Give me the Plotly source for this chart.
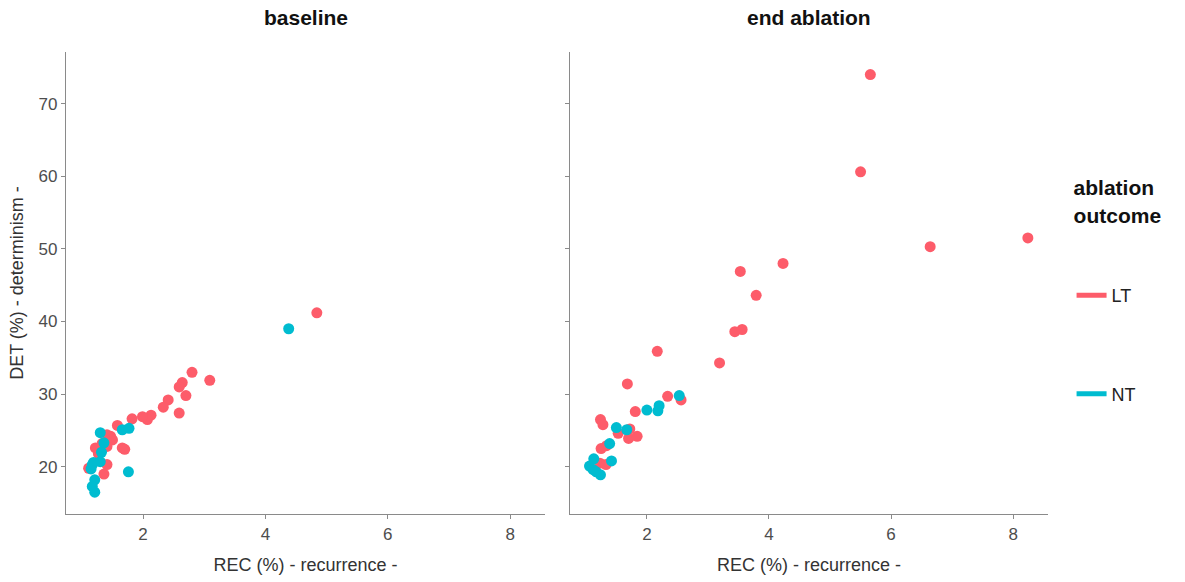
import plotly.graph_objects as go

# baseline panel
base_lt_x = [4.84, 2.80, 3.09, 2.64, 2.59, 2.70, 2.41, 2.33, 2.59, 2.13, 2.07, 1.99, 1.82, 1.58,
             1.47, 1.50, 1.41, 1.33, 1.41, 1.66, 1.70, 1.22, 1.27, 1.11, 1.41, 1.36]
base_lt_y = [41.2, 33.0, 31.9, 31.6, 31.0, 29.8, 29.2, 28.2, 27.4, 27.1, 26.5, 26.9, 26.6, 25.7,
             24.2, 23.7, 24.4, 23.2, 22.8, 22.6, 22.4, 22.6, 21.8, 19.8, 20.3, 19.0]
base_nt_x = [4.38, 1.30, 1.66, 1.77, 1.36, 1.32, 1.30, 1.19, 1.17, 1.15, 1.76, 1.21, 1.17, 1.21]
base_nt_y = [39.0, 24.7, 25.1, 25.3, 23.3, 22.0, 20.7, 20.6, 20.3, 19.7, 19.3, 18.2, 17.3, 16.5]

# end ablation panel
end_lt_x = [5.66, 5.50, 6.64, 8.24, 3.53, 4.23, 3.79, 3.44, 3.56, 2.17, 3.19, 1.68, 2.34, 2.56,
            1.81, 1.24, 1.28, 1.53, 1.72, 1.70, 1.84, 1.25, 1.34, 1.23, 1.33]
end_lt_y = [74.0, 60.6, 50.3, 51.5, 46.9, 48.0, 43.6, 38.6, 38.9, 35.9, 34.3, 31.4, 29.7, 29.2,
            27.6, 26.5, 25.8, 24.6, 25.2, 23.9, 24.2, 22.5, 22.9, 20.5, 20.3]
end_nt_x = [2.53, 2.20, 2.18, 2.00, 1.50, 1.67, 1.39, 1.42, 1.13, 1.06, 1.12, 1.24, 1.17]
end_nt_y = [29.8, 28.4, 27.7, 27.8, 25.4, 25.1, 23.2, 20.8, 21.1, 20.1, 19.6, 18.9, 19.3]

panel_titles = ["baseline", "end ablation"]
x_ticks = [2, 4, 6, 8]
y_ticks = [20, 30, 40, 50, 60, 70]

RED = "#FD5C6A"
CYAN = "#00BCD0"
FONT = "Liberation Sans, Arial, sans-serif"

fig = go.Figure()
mk = dict(size=11, line=dict(width=0))
fig.add_trace(go.Scatter(x=base_lt_x, y=base_lt_y, mode="markers", marker=dict(color=RED, **mk),
                         xaxis="x", yaxis="y", showlegend=False))
fig.add_trace(go.Scatter(x=base_nt_x, y=base_nt_y, mode="markers", marker=dict(color=CYAN, **mk),
                         xaxis="x", yaxis="y", showlegend=False))
fig.add_trace(go.Scatter(x=end_lt_x, y=end_lt_y, mode="markers", marker=dict(color=RED, **mk),
                         xaxis="x2", yaxis="y2", showlegend=False))
fig.add_trace(go.Scatter(x=end_nt_x, y=end_nt_y, mode="markers", marker=dict(color=CYAN, **mk),
                         xaxis="x2", yaxis="y2", showlegend=False))
# legend keys (lines)
fig.add_trace(go.Scatter(x=[None], y=[None], mode="lines", line=dict(color=RED, width=5),
                         name="LT", legendgroup="LT"))
fig.add_trace(go.Scatter(x=[None], y=[None], mode="lines", line=dict(color=CYAN, width=5),
                         name="NT", legendgroup="NT"))

xr = [0.74, 8.57]
yr = [13.5, 77.1]
axcol = "#8a8a8a"
common_x = dict(range=xr, tickvals=x_ticks, showgrid=False, zeroline=False, showline=True,
                linecolor=axcol, linewidth=1.3, ticks="outside", ticklen=4, tickcolor=axcol,
                tickfont=dict(size=17, color="#4d4d4d", family=FONT),
                title=dict(text="REC (%) - recurrence -", font=dict(size=18, color="#333333", family=FONT),
                           standoff=15))
common_y = dict(range=yr, tickvals=y_ticks, showgrid=False, zeroline=False, showline=True,
                linecolor=axcol, linewidth=1.3, ticks="outside", ticklen=4, tickcolor=axcol,
                tickfont=dict(size=17, color="#4d4d4d", family=FONT))

fig.update_layout(
    width=1185, height=582,
    margin=dict(l=66, r=137, t=52, b=68),
    paper_bgcolor="white", plot_bgcolor="white",
    font=dict(family=FONT),
    xaxis=dict(domain=[0, 0.4878], anchor="y", **common_x),
    xaxis2=dict(domain=[0.5132, 1], anchor="y2", **common_x),
    yaxis=dict(domain=[0, 1], anchor="x",
               title=dict(text="DET (%) - determinism -", font=dict(size=18, color="#333333", family=FONT),
                          standoff=10), **common_y),
    yaxis2=dict(domain=[0, 1], anchor="x2", showticklabels=False, **common_y),
    legend=dict(x=1.024, xanchor="left", y=0.749, yanchor="top",
                title=dict(text="<b>ablation<br>outcome</b><br>&nbsp;<br>&nbsp;",
                           font=dict(size=21, color="#111111", family=FONT)),
                font=dict(size=18, color="#222222", family=FONT),
                tracegroupgap=72, bgcolor="rgba(0,0,0,0)"),
    annotations=[
        dict(text="<b>%s</b>" % panel_titles[0], x=0.4878 / 2, y=1, xref="paper", yref="paper",
             xanchor="center", yanchor="bottom", yshift=21, showarrow=False,
             font=dict(size=21, color="#111111", family=FONT)),
        dict(text="<b>%s</b>" % panel_titles[1], x=(0.5132 + 1) / 2, y=1, xref="paper", yref="paper",
             xanchor="center", yanchor="bottom", yshift=21, showarrow=False,
             font=dict(size=21, color="#111111", family=FONT)),
    ],
)

fig.write_html("out.html")
